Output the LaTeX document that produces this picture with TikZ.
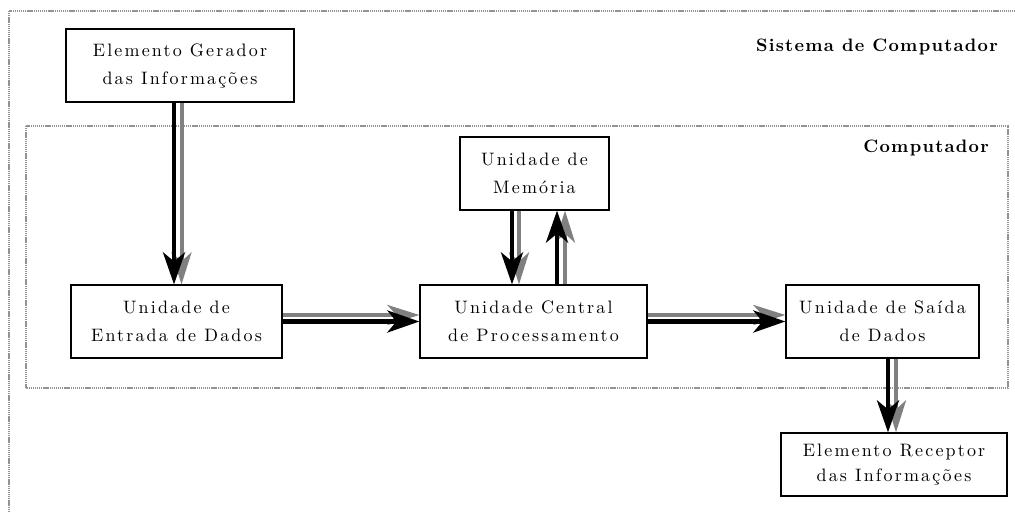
\documentclass[tikz,border=0pt]{standalone}
\usepackage{fontspec}
\usetikzlibrary{arrows.meta}
% letter-spaced serif faces for the unit labels and the frame titles
\newfontfamily\spacedfam{lmroman10-regular.otf}[LetterSpace=12]
\newfontfamily\spacedbold{lmroman10-bold.otf}[LetterSpace=7]
\newcommand{\boxfont}{\spacedfam\fontsize{18}{28}\selectfont}
\newcommand{\titlefont}{\spacedbold\fontsize{18}{22}\selectfont}
\begin{document}
\begin{tikzpicture}[x=1pt,y=-1pt,
  unitbox/.style={draw=black, line width=1.2pt, rectangle, minimum height=73pt,
    align=center, inner sep=0pt, font=\boxfont},
  title/.style={inner sep=0pt, font=\titlefont},
  frame/.style={draw=gray!85, line width=1.3pt, dash pattern=on 1.3pt off 0.8pt},
  blk/.style={line width=4.5pt, black, -{Stealth[length=32pt,width=22pt,inset=9pt]}},
  gry/.style={line width=4pt, gray, -{Stealth[length=32pt,width=20pt,inset=9pt]}}]
\useasboundingbox (0,0) rectangle (1015,513);
\clip (0,0) rectangle (1015,513);

% enclosing frames
\draw[frame] (9,11) rectangle (1050,560);
\draw[frame] (26,126) rectangle (1008,388);
\node[title, anchor=base east] (tsis) at (998,52) {Sistema de Computador};
\node[title, anchor=base east] (tcomp) at (989,153) {Computador};

% units
\node[unitbox, minimum width=228pt] (ger) at (180,65.5) {Elemento Gerador\\das Informações};
\node[unitbox, minimum width=211pt] (ent) at (176.5,321.5) {Unidade de\\Entrada de Dados};
\node[unitbox, minimum width=227pt] (cpu) at (533.5,321.5) {Unidade Central\\de Processamento};
\node[unitbox, minimum width=149pt] (mem) at (534.5,173.5) {Unidade de\\Memória};
\node[unitbox, minimum width=193pt] (sai) at (882.5,321.5) {Unidade de Saída\\de Dados};
\node[unitbox, minimum width=226pt, minimum height=63pt,
  font=\spacedfam\fontsize{18}{25}\selectfont] (rec) at (894,464.5)
  {Elemento Receptor\\das Informações};

% data flow: grey shadow first, black arrow on top
\draw[gry] ([xshift=1.5pt]ger.south) -- ([xshift=5pt]ent.north);
\draw[blk] ([xshift=-6pt]ger.south) -- ([xshift=-2.5pt]ent.north);

\draw[gry] ([yshift=6.5pt]ent.east) -- ([yshift=6.5pt]cpu.west);
\draw[blk] ([yshift=0pt]ent.east) -- ([yshift=0pt]cpu.west);

\draw[gry] ([xshift=-15.5pt]mem.south) -- ([xshift=-14.5pt]cpu.north);
\draw[blk] ([xshift=-22.5pt]mem.south) -- ([xshift=-21.5pt]cpu.north);

\draw[gry] ([xshift=31.5pt]cpu.north) -- ([xshift=30.5pt]mem.south);
\draw[blk] ([xshift=23.5pt]cpu.north) -- ([xshift=22.5pt]mem.south);

\draw[gry] ([yshift=6.5pt]cpu.east) -- ([yshift=6.5pt]sai.west);
\draw[blk] ([yshift=0pt]cpu.east) -- ([yshift=0pt]sai.west);

\draw[gry] ([xshift=13.5pt]sai.south) -- ([xshift=2pt]rec.north);
\draw[blk] ([xshift=5.5pt]sai.south) -- ([xshift=-6pt]rec.north);
\end{tikzpicture}
\end{document}
